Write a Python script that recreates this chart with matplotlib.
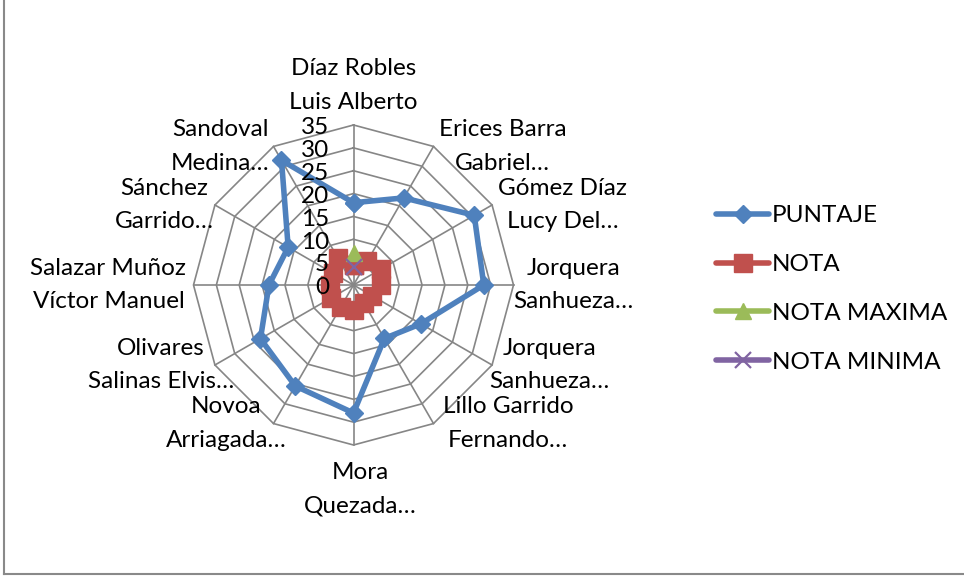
import numpy as np
import matplotlib
matplotlib.use("Agg")
import matplotlib.pyplot as plt
from matplotlib.lines import Line2D

plt.rcParams['font.family'] = ['Lato', 'DejaVu Sans']

# -----------------------------------------------------------
# DATA
# -----------------------------------------------------------
categories = ['Díaz Robles\nLuis Alberto', 'Erices Barra\nGabriel…', 'Gómez Díaz\nLucy Del…',
              'Jorquera\nSanhueza…', 'Jorquera\nSanhueza…', 'Lillo Garrido\nFernando…',
              'Mora\nQuezada…', 'Novoa\nArriagada…', 'Olivares\nSalinas Elvis…',
              'Salazar Muñoz\nVíctor Manuel', 'Sánchez\nGarrido…', 'Sandoval\nMedina…']
puntaje = [18, 22, 30.5, 28.5, 17, 13.5, 28, 25.5, 23.5, 18.5, 16.5, 31.5]
nota = [4.4, 6.0, 6.9, 6.1, 4.7, 4.6, 5.5, 5.5, 5.7, 5.2, 5.2, 6.8]
nota_maxima = [7] + [np.nan] * 11
nota_minima = [4] + [np.nan] * 11
ticks = [0, 5, 10, 15, 20, 25, 30, 35]

BLUE, RED, GREEN, PURPLE = '#4F81BD', '#C0504D', '#9BBB59', '#8064A2'
GRID = '#868686'
FS = 17.5

W, H = 964, 577
CX, CY = 353.5, 285.0          # centre in pixels (from top)
K = 160.0 / 35.0               # pixels per unit

# per-label nudges in pixels (dx, dy) to mimic Excel's label placement
NUDGE = [(0, 0), (-4, 0), (-3, 0), (-9, 0), (-12, 0), (0, 0),
         (0, 4), (22, 0), (28, 0), (2, 0), (8, 0), (5, 0)]

n = len(categories)
ang = np.arange(n) * 2 * np.pi / n   # clockwise from top


def xy(vals):
    v = np.asarray(vals, dtype=float)
    return v * np.sin(ang), v * np.cos(ang)


def closed(a):
    return np.append(a, a[0])


fig = plt.figure(figsize=(W / 100, H / 100), dpi=100)
ax = fig.add_axes([0, 0, 1, 1])
ax.set_xlim(-CX / K, (W - CX) / K)
ax.set_ylim(-(H - CY) / K, CY / K)
ax.axis('off')

# grid polygons + spokes
for t in ticks[1:]:
    gx, gy = xy([t] * n)
    ax.plot(closed(gx), closed(gy), color=GRID, lw=1.2, zorder=1)
ox, oy = xy([ticks[-1]] * n)
for x1, y1 in zip(ox, oy):
    ax.plot([0, x1], [0, y1], color=GRID, lw=1.2, zorder=1)

# tick labels along the top spoke
for t in ticks:
    ax.text(-5.3, t - 0.6, str(t), ha='right', va='center', fontsize=FS, zorder=5)

# series
px, py = xy(puntaje)
ax.plot(closed(px), closed(py), color=BLUE, lw=4, marker='D', ms=9,
        solid_joinstyle='round', zorder=3, label='PUNTAJE')
nx, ny = xy(nota)
ax.plot(closed(nx), closed(ny), color=RED, lw=4, marker='s', ms=13,
        solid_joinstyle='round', zorder=4, label='NOTA')
mx, my = xy(nota_maxima)
ax.plot(mx, my, color=GREEN, lw=4, marker='^', ms=12, zorder=5, label='NOTA MAXIMA')
lx, ly = xy(nota_minima)
ax.plot(lx, ly, color=PURPLE, lw=4, marker='x', ms=12, mew=1.6, zorder=6,
        label='NOTA MINIMA')

# category labels
for a, lab, (ddx, ddy) in zip(ang, categories, NUDGE):
    vx, vy = 35 * np.sin(a) + ddx / K, 35 * np.cos(a) - ddy / K
    s = np.sin(a)
    kw = dict(fontsize=FS, multialignment='center', linespacing=1.75)
    if abs(s) < 0.1:
        if np.cos(a) > 0:
            ax.text(vx, vy + 2.6, lab, ha='center', va='bottom', **kw)
        else:
            ax.text(vx + 1.5, vy - 2.8, lab, ha='center', va='top', **kw)
    elif s > 0:
        ax.text(vx + 2.0, vy, lab, ha='left', va='center', **kw)
    else:
        ax.text(vx - 2.0, vy, lab, ha='right', va='center', **kw)

leg = ax.legend(loc='center left', bbox_to_anchor=(694 / W, 1 - 289 / H),
                bbox_transform=fig.transFigure, frameon=False, fontsize=FS,
                handlelength=2.2, handletextpad=0.1, labelspacing=1.15)
for h in leg.legend_handles:
    h.set_solid_capstyle('round')

# chart border (left and bottom visible)
fig.add_artist(Line2D([4 / W, 4 / W], [1, 1 - 574 / H], color='#898989', lw=1.5))
fig.add_artist(Line2D([4 / W, 1], [1 - 574 / H, 1 - 574 / H], color='#898989', lw=1.5))

fig.savefig('out.png', dpi=100)
